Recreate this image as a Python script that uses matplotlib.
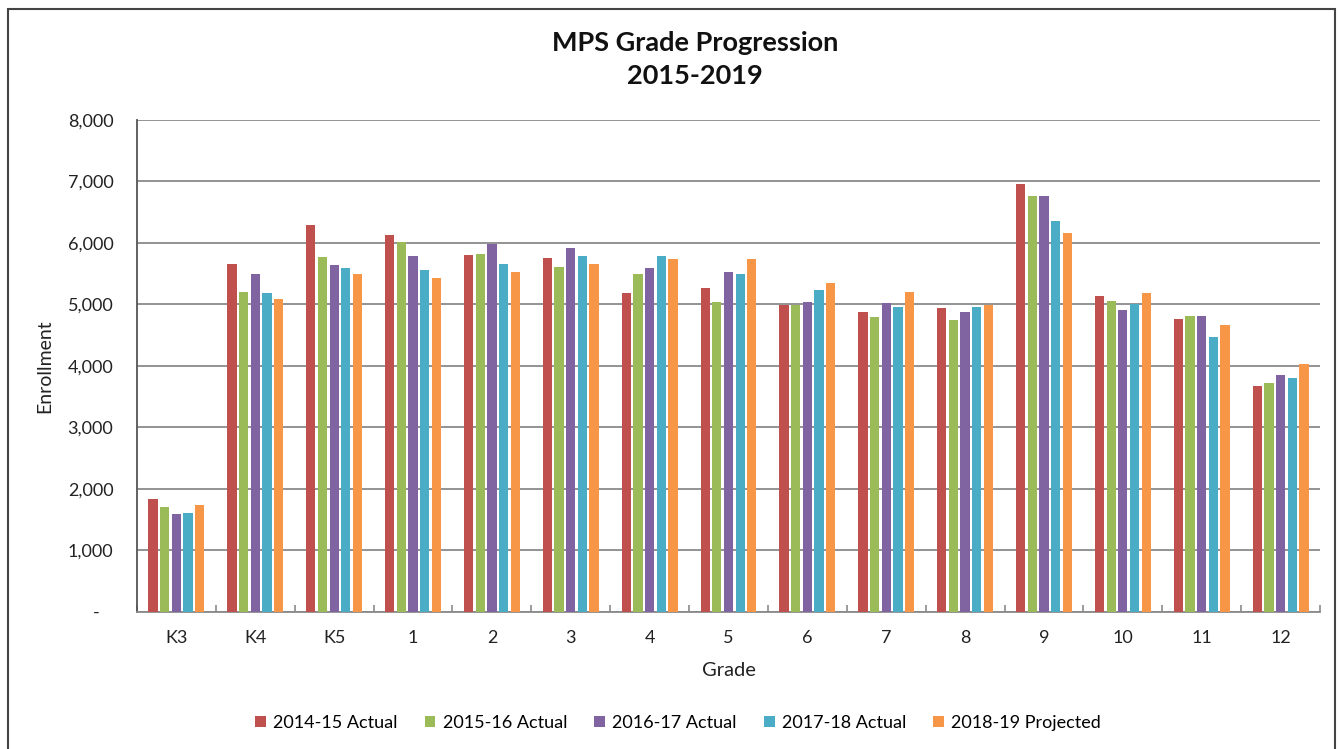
import matplotlib
matplotlib.use("Agg")
import matplotlib.pyplot as plt
import numpy as np
from matplotlib.patches import Rectangle
from matplotlib.ticker import FuncFormatter, FixedLocator

plt.rcParams['font.family'] = ['Lato', 'DejaVu Sans']

grades = ["K3", "K4", "K5", "1", "2", "3", "4", "5", "6", "7", "8", "9", "10", "11", "12"]
series_names = ["2014-15 Actual", "2015-16 Actual", "2016-17 Actual", "2017-18 Actual", "2018-19 Projected"]
y2014 = [1827, 5664, 6287, 6130, 5810, 5756, 5182, 5274, 4997, 4878, 4938, 6954, 5138, 4759, 3680]
y2015 = [1696, 5198, 5767, 6016, 5821, 5610, 5491, 5046, 4997, 4791, 4753, 6770, 5062, 4808, 3713]
y2016 = [1583, 5501, 5637, 5783, 5978, 5924, 5593, 5534, 5035, 5024, 4878, 6770, 4911, 4808, 3843]
y2017 = [1599, 5182, 5593, 5566, 5664, 5794, 5783, 5491, 5241, 4965, 4965, 6363, 5008, 4472, 3799]
y2018 = [1740, 5084, 5491, 5436, 5534, 5653, 5734, 5734, 5355, 5209, 4997, 6157, 5182, 4672, 4038]
colors = ["#C0504D", "#9BBB59", "#8064A2", "#4BACC6", "#F79646"]

W, H = 1338, 749
fig = plt.figure(figsize=(W / 100, H / 100), dpi=100)
ax = fig.add_axes([137 / W, 1 - 611.7 / H, (1320 - 137) / W, (611.7 - 120) / H])

x = np.arange(len(grades))
slot = 0.148
barw = 0.118
all_series = [y2014, y2015, y2016, y2017, y2018]
for i, (vals, name, c) in enumerate(zip(all_series, series_names, colors)):
    ax.bar(x + (i - 2) * slot, vals, width=barw, color=c, label=name, zorder=3)

ax.set_xlim(-0.5, len(grades) - 0.5)
ax.set_ylim(0, 8000)
ax.set_yticks(np.arange(0, 8001, 1000))
ax.yaxis.set_major_formatter(FuncFormatter(lambda v, p: "-   " if v == 0 else f"{int(v):,}"))
ax.yaxis.grid(True, color="#8a8a8a", linewidth=1.3, zorder=0)
ax.set_axisbelow(True)

ax.set_xticks(x)
ax.set_xticklabels(grades)
ax.xaxis.set_minor_locator(FixedLocator(np.arange(-0.5, len(grades), 1.0)))
ax.tick_params(axis="x", which="major", length=0, pad=13, labelsize=13, colors="#222222")
ax.tick_params(axis="x", which="minor", length=5, direction="in", color="#8a8a8a", width=1.2)
ax.tick_params(axis="y", length=0, pad=17, labelsize=13, colors="#222222")

for s in ["top", "right"]:
    ax.spines[s].set_visible(False)
ax.spines["left"].set_color("#555555")
ax.spines["left"].set_linewidth(1.3)
ax.spines["bottom"].set_color("#8a8a8a")
ax.spines["bottom"].set_linewidth(1.3)

ax.set_ylabel("Enrollment", fontsize=14, color="#222222", va="center")
ax.yaxis.set_label_coords(-(137 - 45) / (1320 - 137), 0.5)
ax.set_xlabel("Grade", fontsize=14.5, color="#222222", va="center")
ax.xaxis.set_label_coords(0.5, -(670 - 611.7) / (611.7 - 120))

fig.text(695 / W, 1 - 43 / H, "MPS Grade Progression", ha="center", va="center",
         fontsize=19.5, fontweight="bold", color="#111111")
fig.text(695 / W, 1 - 76 / H, "2015-2019", ha="center", va="center",
         fontsize=19.5, fontweight="bold", color="#111111")

fig.legend(loc="center", bbox_to_anchor=(678 / W, 1 - 723 / H), ncol=5, frameon=False,
           fontsize=13, handlelength=0.6, handleheight=0.6, handletextpad=0.4,
           columnspacing=1.5)

fig.add_artist(Rectangle((8 / W, -0.05), (1335 - 8) / W, 1.05 - 9 / H, transform=fig.transFigure,
                         fill=False, edgecolor="#444444", linewidth=1.5))

fig.savefig("out.png", dpi=100)
